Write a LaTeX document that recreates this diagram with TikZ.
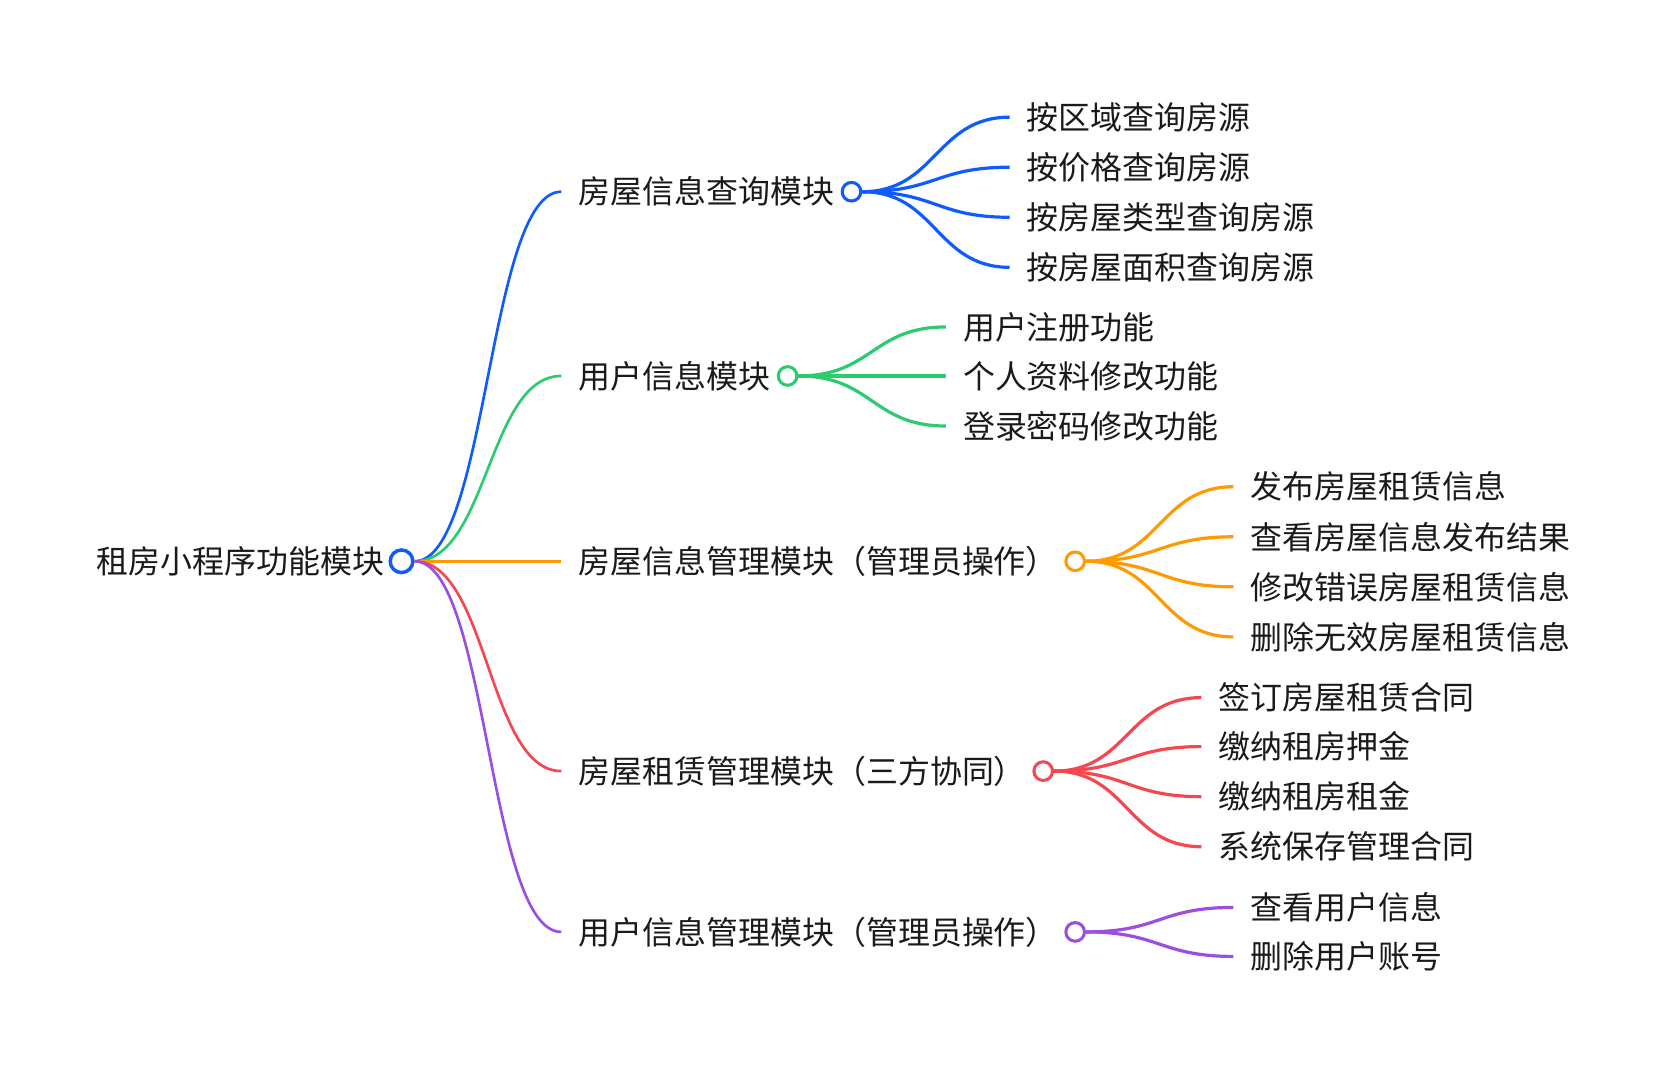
\documentclass[tikz,border=0pt]{standalone}
\usepackage{fontspec}
\setmainfont{Noto Sans CJK SC}
\usetikzlibrary{calc}
\definecolor{cblue}{HTML}{0F5BFF}
\definecolor{cgreen}{HTML}{2BCB6E}
\definecolor{corange}{HTML}{FF9A00}
\definecolor{cred}{HTML}{F5474F}
\definecolor{cpurple}{HTML}{9B4FE0}
\definecolor{txt}{HTML}{1A1A1A}
\tikzset{
	branch/.style={to path={let \p1=(\tikztostart), \p2=(\tikztotarget) in
		.. controls ({(\x1+\x2)/2},\y1) and ({(\x1+\x2)/2},\y2) .. (\tikztotarget)}},
	link/.style={draw=#1, line width=2pt, branch},
	leaf/.style={draw=#1, line width=2.4pt, branch},
	dot/.style={circle, draw=#1, line width=2.3pt, fill=white, minimum size=14pt, inner sep=0pt},
	topic/.style={anchor=west, inner xsep=12.8pt, inner ysep=1pt, text=txt,
		font=\fontsize{24pt}{28pt}\selectfont},
	rootbox/.style={topic, anchor=east}
}
\begin{document}
\begin{tikzpicture}[x=0.8pt, y=-0.8pt]
	\useasboundingbox (0,0) rectangle (1568,1007);
	% root
	\node[rootbox] (r) at (377,527) {租房小程序功能模块};
	\node[dot=cblue, minimum size=17pt, line width=2.6pt] (rdot) at (r.east) {};
	% first level
	\node[topic] (q) at (527,180) {房屋信息查询模块};
	\node[dot=cblue] (qdot) at (q.east) {};
	\node[topic] (u) at (527,353) {用户信息模块};
	\node[dot=cgreen] (udot) at (u.east) {};
	\node[topic] (h) at (527,527) {房屋信息管理模块（管理员操作）};
	\node[dot=corange] (hdot) at (h.east) {};
	\node[topic] (l) at (527,724) {房屋租赁管理模块（三方协同）};
	\node[dot=cred] (ldot) at (l.east) {};
	\node[topic] (m) at (527,875) {用户信息管理模块（管理员操作）};
	\node[dot=cpurple] (mdot) at (m.east) {};
	\draw[link=cblue] (rdot.east) to (q.west);
	\draw[link=cgreen] (rdot.east) to (u.west);
	\draw[link=corange] (rdot.east) to (h.west);
	\draw[link=cred] (rdot.east) to (l.west);
	\draw[link=cpurple] (rdot.east) to (m.west);
	% second level
	\foreach \i/\y/\t in {1/110/按区域查询房源, 2/157/按价格查询房源, 3/204/按房屋类型查询房源, 4/251/按房屋面积查询房源} {
		\node[topic] (q\i) at (948,\y) {\t};
		\draw[leaf=cblue] (qdot.east) to (q\i.west);
	}
	\foreach \i/\y/\t in {1/307/用户注册功能, 2/353/个人资料修改功能, 3/400/登录密码修改功能} {
		\node[topic] (u\i) at (888,\y) {\t};
		\draw[leaf=cgreen] (udot.east) to (u\i.west);
	}
	\foreach \i/\y/\t in {1/457/发布房屋租赁信息, 2/504/查看房屋信息发布结果, 3/551/修改错误房屋租赁信息, 4/598/删除无效房屋租赁信息} {
		\node[topic] (h\i) at (1158,\y) {\t};
		\draw[leaf=corange] (hdot.east) to (h\i.west);
	}
	\foreach \i/\y/\t in {1/655/签订房屋租赁合同, 2/701/缴纳租房押金, 3/748/缴纳租房租金, 4/795/系统保存管理合同} {
		\node[topic] (l\i) at (1128,\y) {\t};
		\draw[leaf=cred] (ldot.east) to (l\i.west);
	}
	\foreach \i/\y/\t in {1/852/查看用户信息, 2/898/删除用户账号} {
		\node[topic] (m\i) at (1158,\y) {\t};
		\draw[leaf=cpurple] (mdot.east) to (m\i.west);
	}
\end{tikzpicture}
\end{document}
